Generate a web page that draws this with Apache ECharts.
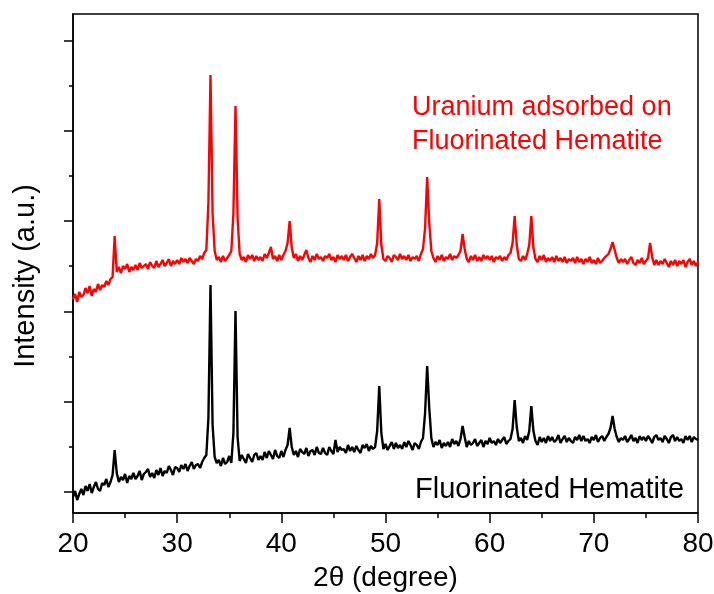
<!DOCTYPE html>
<html>
<head>
<meta charset="utf-8">
<script src="https://cdn.jsdelivr.net/npm/echarts@6/dist/echarts.min.js"></script>
<style>html,body{margin:0;padding:0;background:#fff}#c{width:714px;height:594px}</style>
</head>
<body>
<div id="c"></div>
<script>
// 2θ sampling grid: 20.0 .. 80.0 in 0.2° steps (rows below are one degree each: .0 .2 .4 .6 .8)
const twoThetaStart = 20;
const twoThetaStep = 0.2;
const xTickLabels = [20, 30, 40, 50, 60, 70, 80];

// Fluorinated Hematite (black), arbitrary intensity units
const hematite = [
 16,22,13,19,24, 18,27,22,29,20, 26,31,24,22,30, 28,34,26,31,38, 63,40,31,36,33,
 39,30,37,34,40, 34,37,42,33,39, 41,44,36,40,35, 43,38,45,37,42, 40,47,43,38,46,
 45,41,48,44,49, 42,47,51,44,48, 49,45,51,55,58, 95,228,88,56,50, 53,47,55,49,51,
 57,50,80,202,76, 52,58,54,50,59, 55,51,58,60,53, 57,53,61,55,62, 58,54,63,57,55,
 62,56,63,68,85, 66,58,62,56,64, 61,59,65,57,62, 63,58,66,60,59, 65,60,58,66,62,
 59,73,61,66,63, 64,60,68,62,66, 61,67,63,60,68, 65,69,62,67,64, 66,82,127,80,64,
 69,63,67,71,64, 70,65,68,64,71, 66,72,68,63,70, 68,64,71,75,100, 147,105,75,66,71,
 68,73,65,70,67, 71,66,74,69,72, 67,74,87,76,66, 72,68,70,74,67, 70,73,66,72,69,
 75,70,72,68,74, 70,73,76,69,72, 74,84,113,86,72, 75,70,77,73,82, 107,82,72,68,76,
 71,75,70,77,72, 76,71,73,78,70, 74,77,71,75,72, 70,76,73,78,72, 77,72,74,70,76,
 73,78,71,75,77, 72,76,79,85,97, 84,76,71,75,73, 77,71,74,78,72, 75,70,77,73,76,
 72,77,74,70,76, 78,73,75,71,77, 74,70,76,78,72, 76,72,74,70,77, 73,77,71,76,74,
 73
];

// Uranium adsorbed on Fluorinated Hematite (red), same units, offset upward
const uraniumHematite = [
 214,219,211,221,216, 218,225,220,227,217, 224,221,229,223,228, 226,232,228,234,236, 277,241,246,240,247,
 244,249,241,246,243, 248,243,250,245,247, 249,244,251,247,245, 252,246,249,253,247, 250,254,247,252,249,
 253,249,255,251,254, 250,255,252,249,254, 252,257,254,260,263, 310,438,300,262,253, 256,251,257,252,255,
 258,262,300,407,295, 259,253,256,251,258, 254,258,252,257,253, 256,252,259,255,260, 266,254,257,252,258,
 253,258,262,270,292, 265,255,259,252,257, 253,258,263,255,251, 257,253,259,254,256, 252,257,255,259,253,
 256,251,258,254,257, 253,258,252,256,259, 255,251,257,253,258, 252,257,254,259,255, 258,270,314,268,254,
 252,257,255,251,258, 256,253,259,254,257, 253,258,252,256,254, 257,252,259,264,285, 336,290,262,255,251,
 257,253,258,252,256, 254,259,253,257,255, 258,262,279,264,254, 251,257,253,258,252, 256,252,258,254,257,
 253,257,251,256,254, 257,252,256,253,258, 260,270,297,268,254, 252,257,253,259,268, 297,265,254,251,257,
 253,258,251,255,252, 256,251,257,252,255, 251,256,250,254,252, 255,250,256,251,254, 249,254,251,256,250,
 253,249,255,250,252, 255,257,259,264,271, 263,255,250,254,251, 254,249,253,256,250, 248,253,250,255,249,
 252,255,270,256,248, 253,248,252,249,254, 250,246,252,248,253, 247,252,249,253,246, 251,254,248,252,247,
 251
];

// left-axis tick positions (unlabelled)
const yMajorTicks = [21, 111, 201, 292, 382, 472];
const yMinorTicks = [66, 156, 247, 337, 427];

function toPairs(vals) {
  return vals.map((v, i) => [+(twoThetaStart + i * twoThetaStep).toFixed(1), v]);
}

const FONT = "'Liberation Sans', Arial, sans-serif";
const chart = echarts.init(document.getElementById('c'), null, {renderer: 'canvas'});
chart.setOption({
  animation: false,
  backgroundColor: '#fff',
  grid: {left: 73, right: 16, top: 14, bottom: 81, containLabel: false, outerBoundsMode: 'none',
    show: true, borderColor: '#000', borderWidth: 1.5, backgroundColor: 'transparent'},
  xAxis: {
    type: 'value', min: 20, max: 80, interval: 10,
    name: '2θ (degree)', nameLocation: 'middle', nameGap: 51,
    nameTextStyle: {fontFamily: FONT, fontSize: 28, color: '#000'},
    axisLine: {show: true, lineStyle: {color: '#000', width: 1.5}},
    axisTick: {show: true, inside: false, length: 10, lineStyle: {color: '#000', width: 1.5}},
    minorTick: {show: true, splitNumber: 2, length: 5, lineStyle: {color: '#000', width: 1.5}},
    axisLabel: {fontFamily: FONT, fontSize: 28, color: '#000', margin: 17,
      formatter: v => xTickLabels.includes(v) ? String(v) : ''},
    splitLine: {show: false}
  },
  yAxis: [{
    type: 'value', min: 0, max: 499,
    axisLine: {show: true, lineStyle: {color: '#000', width: 1.5}},
    axisTick: {show: true, length: 9, customValues: yMajorTicks, lineStyle: {color: '#000', width: 1.5}},
    axisLabel: {show: false},
    splitLine: {show: false}
  }, {
    type: 'value', min: 0, max: 499, position: 'left',
    axisLine: {show: false},
    axisTick: {show: true, length: 4, customValues: yMinorTicks, lineStyle: {color: '#000', width: 1.5}},
    axisLabel: {show: false},
    splitLine: {show: false}
  }],
  series: [{
    type: 'line', name: 'Fluorinated Hematite', data: toPairs(hematite),
    showSymbol: false, lineStyle: {color: '#000', width: 2.4}, itemStyle: {color: '#000'}
  }, {
    type: 'line', name: 'Uranium adsorbed on Fluorinated Hematite', data: toPairs(uraniumHematite),
    showSymbol: false, lineStyle: {color: '#ff0000', width: 2.4}, itemStyle: {color: '#ff0000'}
  }],
  graphic: [
    {type: 'text', x: 26, y: 276, rotation: Math.PI / 2,
      style: {text: 'Intensity (a.u.)', fill: '#000', font: "29px 'Liberation Sans', Arial, sans-serif", align: 'center', verticalAlign: 'middle'}},
    {type: 'text', x: 412, y: 91, style: {text: 'Uranium adsorbed on\nFluorinated Hematite', fill: '#ff0000', font: "27px 'Liberation Sans', Arial, sans-serif", lineHeight: 34}},
    {type: 'text', x: 415, y: 490, style: {text: 'Fluorinated Hematite', fill: '#000', font: "29px 'Liberation Sans', Arial, sans-serif", verticalAlign: 'middle'}}
  ]
});
</script>
</body>
</html>
